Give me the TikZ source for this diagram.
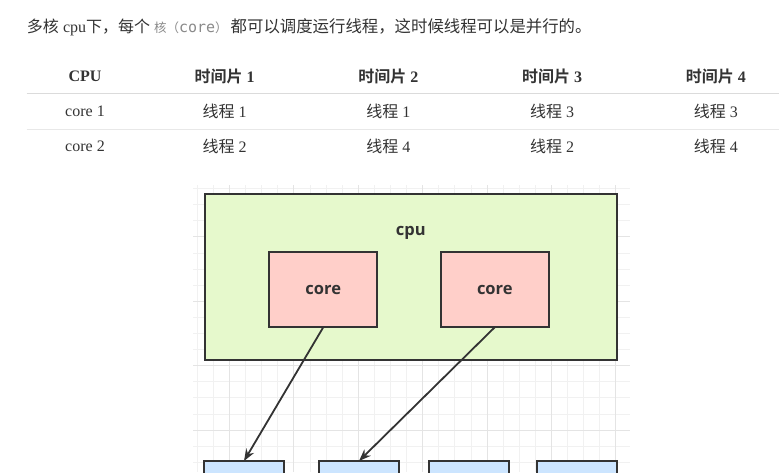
\documentclass[tikz,border=0pt]{standalone}
\usepackage{fontspec}
\setmainfont{Liberation Serif}
\newfontfamily\cjk{Noto Sans CJK SC}[BoldFont={Noto Sans CJK SC Bold}]
\newfontfamily\boxfont{Open Sans}
\newfontfamily\codefont{DejaVu Sans Mono}
\usetikzlibrary{positioning}
\usetikzlibrary{arrows.meta}

\definecolor{cpugreen}{HTML}{E6F9CC}
\definecolor{corepink}{HTML}{FFCFC9}
\definecolor{thblue}{HTML}{CCE5FF}
\definecolor{edgec}{HTML}{333333}
\definecolor{txtc}{HTML}{333333}
\definecolor{codec}{HTML}{8A8A8A}
\definecolor{gridminor}{HTML}{F1F1F1}
\definecolor{gridmajor}{HTML}{E4E4E4}

\begin{document}
\begin{tikzpicture}[x=1pt,y=-1pt,on grid,>={Stealth[length=12pt,width=9pt]},
	txt/.style={inner sep=0pt,outer sep=0pt,text=txtc,font=\fontsize{16}{16}\selectfont},
	hd/.style={txt,font=\fontsize{16}{16}\selectfont\bfseries},
	box/.style={draw=edgec,line width=2pt,outer sep=0pt,text=txtc,font=\boxfont\bfseries\fontsize{16.5}{16.5}\selectfont},
	rule/.style={line width=0.8pt}]
	\useasboundingbox (0,0) rectangle (779,472);
	\clip (0,0) rectangle (779,472);
	\fill[white] (0,0) rectangle (779,472);

	% intro line
	\node [txt,anchor=west] at (27,27) (intro) {{\cjk 多核} cpu{\cjk 下，每个} {\color{codec}{\cjk\fontsize{12.5}{12.5}\selectfont 核（}{\codefont\fontsize{15}{15}\selectfont core}{\cjk\fontsize{12.5}{12.5}\selectfont ）}}\hspace{3pt}{\cjk\fontsize{16.4}{16.4}\selectfont 都可以调度运行线程，这时候线程可以是并行的。}};

	% table
	\node [hd] at (85,76) (hcpu) {CPU};
	\node [hd] at (224.5,76) (h1) {{\cjk\bfseries 时间片} 1};
	\node [hd,right=163.8pt of h1] (h2) {{\cjk\bfseries 时间片} 2};
	\node [hd,right=163.8pt of h2] (h3) {{\cjk\bfseries 时间片} 3};
	\node [hd,right=163.8pt of h3] (h4) {{\cjk\bfseries 时间片} 4};
	\draw[rule,color=black!14] (26.7,93.3) -- (779,93.3);

	\node [txt,below=35.7pt of hcpu] (c1) {core 1};
	\node [txt,below=35.7pt of h1] (c1t1) {{\cjk 线程} 1};
	\node [txt,below=35.7pt of h2] (c1t2) {{\cjk 线程} 1};
	\node [txt,below=35.7pt of h3] (c1t3) {{\cjk 线程} 3};
	\node [txt,below=35.7pt of h4] (c1t4) {{\cjk 线程} 3};
	\draw[rule,color=black!9] (26.7,129) -- (779,129);

	\node [txt,below=35pt of c1] (c2) {core 2};
	\node [txt,below=35pt of c1t1] (c2t1) {{\cjk 线程} 2};
	\node [txt,below=35pt of c1t2] (c2t2) {{\cjk 线程} 4};
	\node [txt,below=35pt of c1t3] (c2t3) {{\cjk 线程} 2};
	\node [txt,below=35pt of c1t4] (c2t4) {{\cjk 线程} 4};

	% grid behind the diagram
	\foreach \i in {0,...,26} \draw[gridminor,line width=0.8pt] (197.2+16.1*\i,185) -- (197.2+16.1*\i,472);
	\foreach \j in {0,...,17} \draw[gridminor,line width=0.8pt] (193,188.5+16.1*\j) -- (630,188.5+16.1*\j);
	\foreach \i in {2,6,...,26} \draw[gridmajor,line width=0.8pt] (197.2+16.1*\i,185) -- (197.2+16.1*\i,472);
	\foreach \j in {3,7,11,15} \draw[gridmajor,line width=0.8pt] (193,188.5+16.1*\j) -- (630,188.5+16.1*\j);

	% cpu and cores
	\node [box,fill=cpugreen,minimum width=412pt,minimum height=166pt] at (410.8,277) (cpu) {};
	\node [txt,font=\boxfont\bfseries\fontsize{16.5}{16.5}\selectfont,below=32pt of cpu.north] (cpu_txt) {cpu};
	\node [box,fill=corepink,minimum width=108pt,minimum height=75pt] at (323.3,289.7) (core1) {core};
	\node [box,fill=corepink,minimum width=108pt,minimum height=75pt,right=171.5pt of core1] (core2) {core};

	% threads
	\node [box,fill=thblue,minimum width=80pt,minimum height=30pt] at (244,476) (t1) {};
	\node [box,fill=thblue,minimum width=80pt,minimum height=30pt,right=115pt of t1] (t2) {};
	\node [box,fill=thblue,minimum width=80pt,minimum height=30pt,right=110pt of t2] (t3) {};
	\node [box,fill=thblue,minimum width=80pt,minimum height=30pt,right=107.7pt of t3] (t4) {};

	\draw[->,edgec,line width=1.8pt] (core1.south) -- (t1.north);
	\draw[->,edgec,line width=1.8pt] (core2.south) -- (t2.north);
\end{tikzpicture}
\end{document}
